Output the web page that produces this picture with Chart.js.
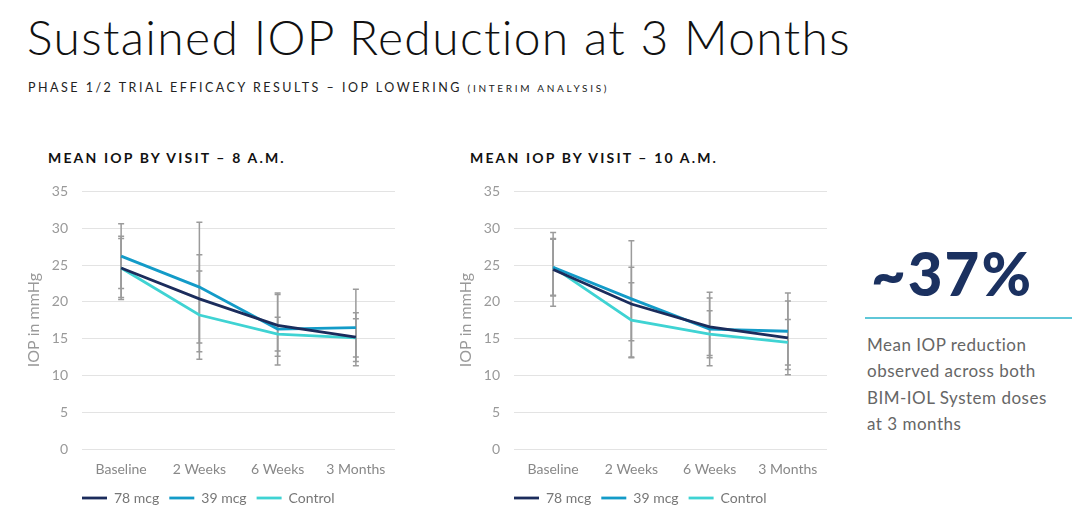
<!DOCTYPE html>
<html><head><meta charset="utf-8">
<script src="https://cdn.jsdelivr.net/npm/chart.js@4.4.0/dist/chart.umd.min.js"></script>
<style>
html,body{margin:0;padding:0;background:#fff;}
body{width:1080px;height:519px;position:relative;overflow:hidden;font-family:Lato,"Open Sans",sans-serif;}
.abs{position:absolute;white-space:nowrap;}
#title{left:27px;top:8px;font-size:48px;font-weight:300;letter-spacing:1.35px;color:#111;}
#sub{left:28px;top:80px;font-size:12.5px;letter-spacing:2.5px;color:#222;}
#sub small{font-size:10px;letter-spacing:2.7px;}
.ct{font-size:14px;font-weight:700;letter-spacing:2.15px;color:#111;}
#big{left:871px;top:237px;font-size:60px;font-weight:900;color:#1b3160;letter-spacing:2px;}
#rule{left:865px;top:317px;width:207px;height:2px;background:#5fc7d8;}
#note{left:867px;top:332px;font-size:17px;line-height:26.3px;letter-spacing:0.5px;color:#666;}
.cw{position:absolute;}
</style></head>
<body>
<div id="title" class="abs">Sustained IOP Reduction at 3 Months</div>
<div id="sub" class="abs">PHASE 1/2 TRIAL EFFICACY RESULTS – IOP LOWERING <small>(INTERIM ANALYSIS)</small></div>
<div class="abs ct" style="left:48px;top:149px;">MEAN IOP BY VISIT – 8 A.M.</div>
<div class="abs ct" style="left:470px;top:149px;">MEAN IOP BY VISIT – 10 A.M.</div>
<div class="cw" style="left:20px;top:169px;width:385px;height:346px;"><canvas id="c1"></canvas></div>
<div class="cw" style="left:452px;top:169px;width:385px;height:346px;"><canvas id="c2"></canvas></div>
<div id="big" class="abs">~37%</div>
<div id="rule" class="abs"></div>
<div id="note" class="abs">Mean IOP reduction<br>observed across both<br>BIM-IOL System doses<br>at 3 months</div>
<script>
const categories = ['Baseline','2 Weeks','6 Weeks','3 Months'];
const seriesNames = ['78 mcg','39 mcg','Control'];
const yTicks = [0,5,10,15,20,25,30,35];

// 8 A.M.
const am8_78 = [24.6, 20.4, 16.8, 15.2];
const am8_39 = [26.2, 22.0, 16.3, 16.5];
const am8_ctl = [24.6, 18.2, 15.6, 15.1];
const am8_78_err = [4.3, 6.0, 4.2, 3.3];
const am8_39_err = [4.4, 8.8, 4.9, 5.2];
const am8_ctl_err = [4.0, 6.0, 2.3, 2.6];

// 10 A.M.
const am10_78 = [24.4, 19.7, 16.6, 15.1];
const am10_39 = [24.7, 20.4, 16.3, 16.0];
const am10_ctl = [24.7, 17.5, 15.6, 14.5];
const am10_78_err = [5.0, 5.0, 3.9, 5.0];
const am10_39_err = [3.9, 7.9, 5.0, 5.2];
const am10_ctl_err = [3.8, 5.1, 3.2, 3.1];

const colors = ['#1b2c5c','#139bc8','#3fd3d3'];

const errorBars = {
  id:'errorBars',
  beforeDatasetsDraw(chart){
    const {ctx, scales:{x,y}} = chart;
    ctx.save();
    ctx.strokeStyle = '#9b9b9b';
    ctx.lineWidth = 1.5;
    chart.data.datasets.forEach(ds=>{
      ds.errors.forEach((e,j)=>{
        const v = ds.data[j];
        const px = x.getPixelForValue(j);
        const t = y.getPixelForValue(v+e), b = y.getPixelForValue(v-e);
        ctx.beginPath();
        ctx.moveTo(px,t); ctx.lineTo(px,b);
        ctx.moveTo(px-3,t); ctx.lineTo(px+3,t);
        ctx.moveTo(px-3,b); ctx.lineTo(px+3,b);
        ctx.stroke();
      });
    });
    ctx.restore();
  }
};

const legendShift = {
  id:'legendShift',
  afterLayout(chart){
    const lg = chart.legend;
    if (lg) { const dx = chart.chartArea.left - lg.left - 10; lg.left += dx; lg.right += dx; }
  }
};

function make(id, vals, errs){
  const datasets = vals.map((d,i)=>({
    label: seriesNames[i], data: d, errors: errs[i],
    borderColor: colors[i], backgroundColor: colors[i],
    borderWidth: 2.8, pointRadius: 0, tension: 0, fill:false
  }));
  new Chart(document.getElementById(id), {
    type:'line',
    data:{labels:categories, datasets},
    options:{
      responsive:true, maintainAspectRatio:false, animation:false,
      layout:{padding:{top:0,right:10,left:0,bottom:0}},
      plugins:{
        legend:{position:'bottom', align:'start',
          labels:{usePointStyle:true, pointStyle:'line', pointStyleWidth:25,
            color:'#777', font:{family:'Lato', size:14}, padding:10}},
        tooltip:{enabled:false}
      },
      scales:{
        x:{offset:true, grid:{display:false, drawTicks:false}, border:{display:false},
          afterFit:(s)=>{ s.height = 32; },
          ticks:{color:'#888', font:{family:'Lato', size:14}, padding:12}},
        y:{min:0,max:35, afterBuildTicks:(s)=>{s.ticks = yTicks.map(v=>({value:v}));},
          afterFit:(s)=>{ s.width = 62; },
          grid:{color:'#e3e3e3', lineWidth:1, drawTicks:false}, border:{display:false},
          ticks:{color:'#999', font:{family:'Lato', size:14}, padding:14},
          title:{display:true, text:'IOP in mmHg', color:'#999', font:{family:'Lato', size:16}, padding:{top:4,bottom:0}}}
      }
    },
    plugins:[errorBars, legendShift]
  });
}
make('c1', [am8_78, am8_39, am8_ctl], [am8_78_err, am8_39_err, am8_ctl_err]);
make('c2', [am10_78, am10_39, am10_ctl], [am10_78_err, am10_39_err, am10_ctl_err]);
</script>
</body></html>
